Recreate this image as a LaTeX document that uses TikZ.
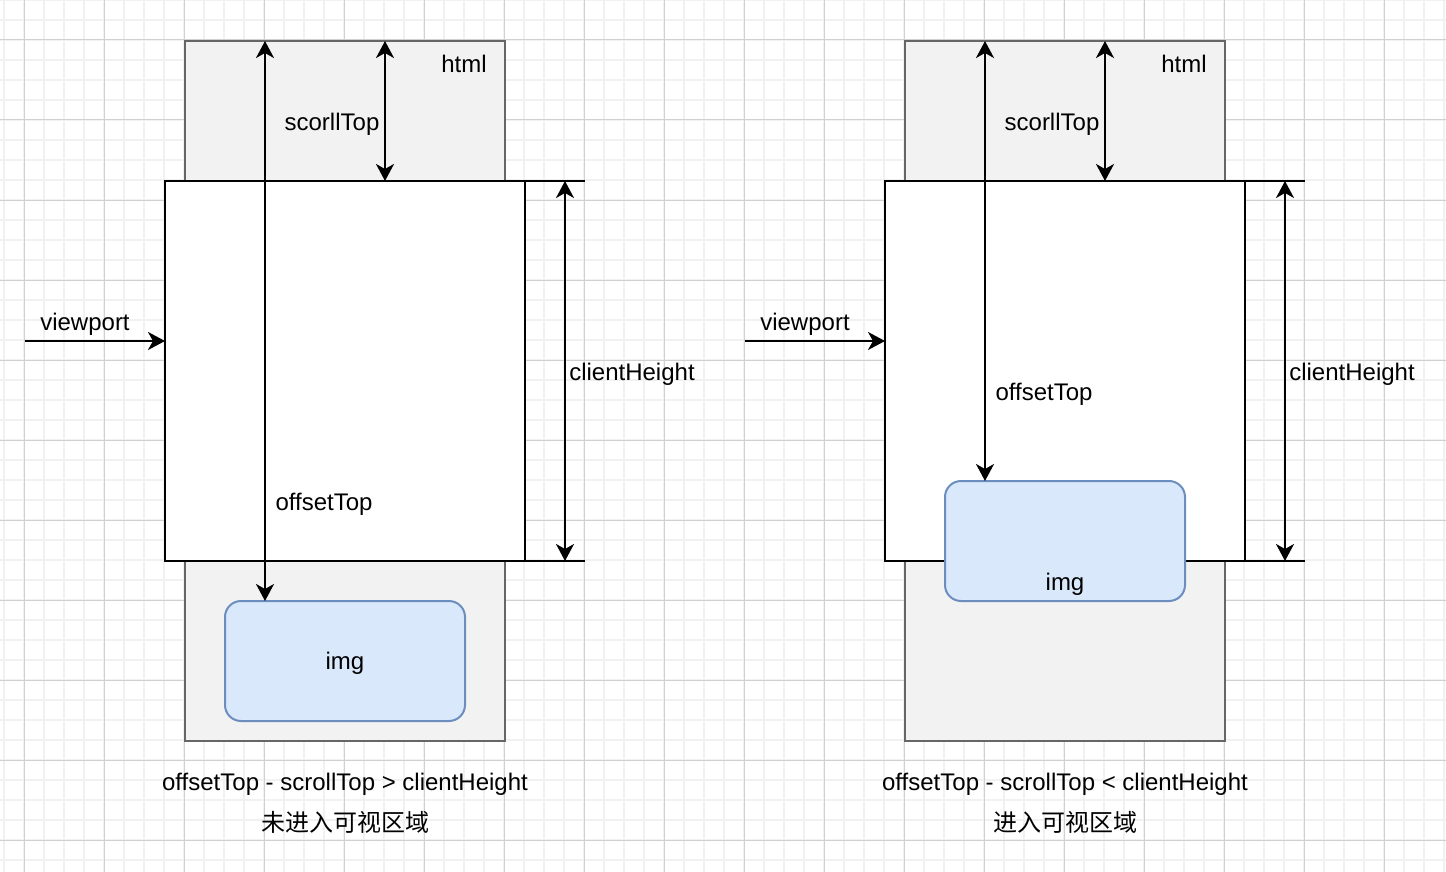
\documentclass[tikz,border=0pt]{standalone}
\usepackage{fontspec}
\setmainfont{Liberation Sans}
\newfontfamily\cjk{Noto Sans CJK SC}
\usetikzlibrary{arrows.meta, positioning, calc}

\definecolor{gridminor}{HTML}{F1F1F1}
\definecolor{gridmajor}{HTML}{D0D0D0}
\definecolor{htmlfill}{HTML}{F2F2F2}
\definecolor{htmlline}{HTML}{666666}
\definecolor{imgfill}{HTML}{DAE8FC}
\definecolor{imgline}{HTML}{6C8EBF}

\begin{document}
\begin{tikzpicture}[
    x=0.5pt, y=-0.5pt,
    font=\fontsize{12}{14}\selectfont,
    htmlbox/.style={rectangle, draw=htmlline, fill=htmlfill, line width=1pt, inner sep=0pt, outer sep=0pt, minimum width=160pt, minimum height=350pt},
    viewbox/.style={rectangle, draw=black, fill=white, line width=1pt, inner sep=0pt, outer sep=0pt, minimum width=180pt, minimum height=190pt},
    imgbox/.style={rectangle, rounded corners=8pt, draw=imgline, fill=imgfill, line width=1pt, inner sep=0pt, outer sep=0pt, minimum width=120pt, minimum height=60pt},
    txt/.style={inner sep=0pt, anchor=center},
    edge/.style={line width=1pt},
    arrow/.style={edge, -{Stealth[length=8.5pt, width=9pt, inset=2.5pt]}},
    dim/.style={edge, {Stealth[length=8.5pt, width=9pt, inset=2.5pt]}-{Stealth[length=8.5pt, width=9pt, inset=2.5pt]}}
]
% background grid
\fill[white] (0,0) rectangle (1446,872);
\useasboundingbox (0,0) rectangle (1446,872);
\foreach \gx in {4,24,...,1444} \draw[gridminor, line width=1pt] (\gx,0) -- (\gx,872);
\foreach \gy in {0,20,...,860} \draw[gridminor, line width=1pt] (0,\gy) -- (1446,\gy);
\foreach \gx in {24,104,...,1384} \draw[gridmajor, line width=0.5pt] (\gx,0) -- (\gx,872);
\foreach \gy in {40,120,...,840} \draw[gridmajor, line width=0.5pt] (0,\gy) -- (1446,\gy);

% left: not yet visible
\node[htmlbox] (html1) at (345,391) {};
\node[viewbox] (vp1) at (345,371) {};
\node[imgbox, label={[txt, yshift=-1pt]center:img}] (img1) at (345,661) {};
\node[txt] (htmltxt1) at (464,64) {html};

\coordinate (sc1) at (385,0);
\coordinate (ot1) at (265,0);
\coordinate (ch1) at (565,0);
\coordinate (in1) at (25,341);
\draw[dim] (sc1 |- html1.north) -- (sc1 |- vp1.north);
\draw[dim] (ot1 |- html1.north) -- (ot1 |- img1.north);
\draw[edge] (vp1.north east) -- ++(60,0);
\draw[edge] (vp1.south east) -- ++(60,0);
\draw[dim] (ch1 |- vp1.north) -- (ch1 |- vp1.south);
\draw[arrow] (in1) -- (in1 -| vp1.west);

\node[txt] (sctxt1) at (332,124) {scorllTop};
\node[txt] (ottxt1) at (324,504) {offsetTop};
\node[txt] (chtxt1) at (632,374) {clientHeight};
\node[txt] (intxt1) at (85,324) {viewport};
\node[txt] (cap1) at (345,784) {offsetTop - scrollTop > clientHeight};
\node[txt] (sub1) at (345,822) {\cjk 未进入可视区域};

% right: inside the viewport
\node[htmlbox] (html2) at (1065,391) {};
\node[viewbox] (vp2) at (1065,371) {};
\node[imgbox, label={[txt, yshift=8.5pt]south:img}] (img2) at (1065,541) {};
\node[txt] (htmltxt2) at (1184,64) {html};

\coordinate (sc2) at (1105,0);
\coordinate (ot2) at (985,0);
\coordinate (ch2) at (1285,0);
\coordinate (in2) at (745,341);
\draw[dim] (sc2 |- html2.north) -- (sc2 |- vp2.north);
\draw[dim] (ot2 |- html2.north) -- (ot2 |- img2.north);
\draw[edge] (vp2.north east) -- ++(60,0);
\draw[edge] (vp2.south east) -- ++(60,0);
\draw[dim] (ch2 |- vp2.north) -- (ch2 |- vp2.south);
\draw[arrow] (in2) -- (in2 -| vp2.west);

\node[txt] (sctxt2) at (1052,124) {scorllTop};
\node[txt] (ottxt2) at (1044,394) {offsetTop};
\node[txt] (chtxt2) at (1352,374) {clientHeight};
\node[txt] (intxt2) at (805,324) {viewport};
\node[txt] (cap2) at (1065,784) {offsetTop - scrollTop < clientHeight};
\node[txt] (sub2) at (1065,822) {\cjk 进入可视区域};
\end{tikzpicture}
\end{document}
